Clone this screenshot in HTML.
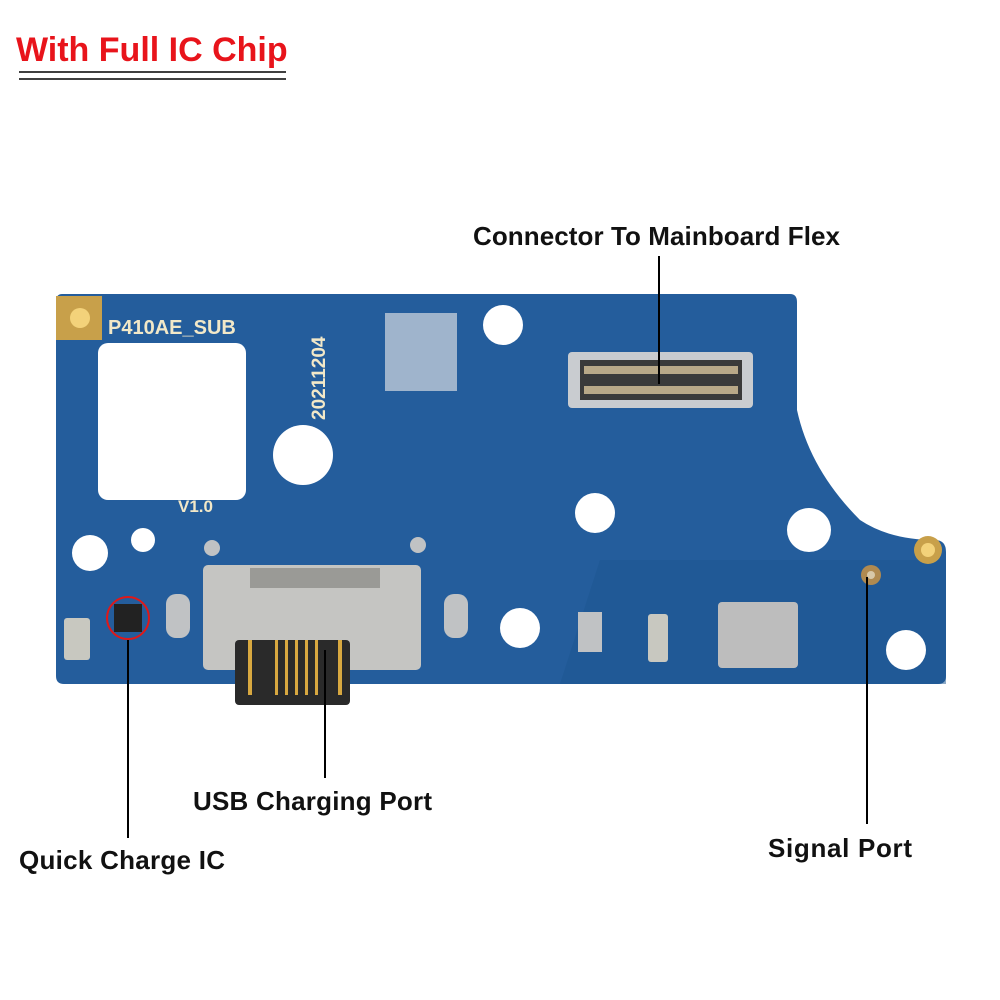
<!DOCTYPE html>
<html><head><meta charset="utf-8"><style>
html,body{margin:0;padding:0;background:#fff;width:1000px;height:1000px;overflow:hidden}
svg{display:block}
</style></head><body>
<svg width="1000" height="1000" viewBox="0 0 1000 1000" xmlns="http://www.w3.org/2000/svg">
<text x="16" y="61" font-family="Liberation Sans, sans-serif" font-weight="bold" font-size="34" fill="#e8141b">With Full IC Chip</text>
<line x1="19" y1="72" x2="286" y2="72" stroke="#000" stroke-width="1.5"/>
<line x1="19" y1="79" x2="286" y2="79" stroke="#000" stroke-width="1.5"/>

<!-- board -->
<path d="M62 294 L790 294 Q797 294 797 302 L797 410 Q810 470 860 520 Q890 540 935 540 Q946 540 946 552 L946 676 Q946 684 938 684 L64 684 Q56 684 56 676 L56 302 Q56 294 62 294 Z" fill="#245d9c"/>
<path d="M600 560 L946 560 L946 684 L560 684 Z" fill="#1b5590" opacity="0.5"/>
<!-- cutout -->
<rect x="98" y="343" width="148" height="157" rx="10" fill="#fff"/>
<circle cx="303" cy="455" r="30" fill="#fff"/>
<!-- holes -->
<circle cx="503" cy="325" r="20" fill="#fff"/>
<circle cx="595" cy="513" r="20" fill="#fff"/>
<circle cx="809" cy="530" r="22" fill="#fff"/>
<circle cx="520" cy="628" r="20" fill="#fff"/>
<circle cx="906" cy="650" r="20" fill="#fff"/>
<circle cx="90" cy="553" r="18" fill="#fff"/>
<circle cx="143" cy="540" r="12" fill="#fff"/>
<!-- gold pads -->
<rect x="56" y="296" width="46" height="44" fill="#c8a04a"/>
<circle cx="80" cy="318" r="10" fill="#f3d27a"/>
<circle cx="928" cy="550" r="14" fill="#c8a04a"/>
<circle cx="928" cy="550" r="7" fill="#f3d27a"/>
<!-- labels on board -->
<text x="108" y="334" font-family="Liberation Sans, sans-serif" font-weight="bold" font-size="20" fill="#f2e8c8">P410AE_SUB</text>
<text x="178" y="512" font-family="Liberation Sans, sans-serif" font-weight="bold" font-size="17" fill="#f2e8c8">V1.0</text>
<text transform="translate(325,420) rotate(-90)" font-family="Liberation Sans, sans-serif" font-weight="bold" font-size="19" fill="#f2e8c8">20211204</text>
<rect x="385" y="313" width="72" height="78" fill="#9fb4cc"/>
<!-- mainboard connector -->
<rect x="568" y="352" width="185" height="56" rx="4" fill="#c9ccd0"/>
<rect x="580" y="360" width="162" height="40" fill="#3a3a3a"/>
<rect x="584" y="366" width="154" height="8" fill="#b8a888"/>
<rect x="584" y="386" width="154" height="8" fill="#b8a888"/>
<!-- usb port -->
<rect x="203" y="565" width="218" height="105" rx="5" fill="#c5c5c2"/>
<rect x="250" y="568" width="130" height="20" fill="#9a9a96"/>
<rect x="235" y="640" width="115" height="65" rx="4" fill="#2a2a2a"/>
<rect x="248" y="640" width="4" height="55" fill="#d8a840"/>
<rect x="275" y="640" width="3" height="55" fill="#d8a840"/>
<rect x="285" y="640" width="3" height="55" fill="#d8a840"/>
<rect x="295" y="640" width="3" height="55" fill="#d8a840"/>
<rect x="305" y="640" width="3" height="55" fill="#d8a840"/>
<rect x="315" y="640" width="3" height="55" fill="#d8a840"/>
<rect x="338" y="640" width="4" height="55" fill="#d8a840"/>
<rect x="166" y="594" width="24" height="44" rx="10" fill="#c0c2c4"/>
<rect x="444" y="594" width="24" height="44" rx="10" fill="#c0c2c4"/>
<circle cx="212" cy="548" r="8" fill="#c0c2c4"/>
<circle cx="418" cy="545" r="8" fill="#c0c2c4"/>
<!-- IC -->
<rect x="114" y="604" width="28" height="28" fill="#222"/>
<circle cx="128" cy="618" r="21" fill="none" stroke="#e01818" stroke-width="2"/>
<rect x="64" y="618" width="26" height="42" rx="3" fill="#c8c8c0"/>
<!-- shield can -->
<rect x="718" y="602" width="80" height="66" rx="4" fill="#bdbdbd"/>
<rect x="578" y="612" width="24" height="40" fill="#c0c2c4"/>
<rect x="648" y="614" width="20" height="48" rx="3" fill="#c8c8c0"/>
<circle cx="871" cy="575" r="10" fill="#b08a50"/>
<circle cx="871" cy="575" r="4" fill="#d8c8a8"/>
<!-- pointer lines -->
<g stroke="#000" stroke-width="2">
<line x1="659" y1="256" x2="659" y2="384"/>
<line x1="325" y1="650" x2="325" y2="778"/>
<line x1="128" y1="640" x2="128" y2="838"/>
<line x1="867" y1="577" x2="867" y2="824"/>
</g>
<g font-family="Liberation Sans, sans-serif" font-weight="bold" font-size="26" fill="#111">
<text x="473" y="245" textLength="367">Connector To Mainboard Flex</text>
<text x="193" y="810" textLength="239">USB Charging Port</text>
<text x="19" y="869" textLength="206">Quick Charge IC</text>
<text x="768" y="857" textLength="144">Signal Port</text>
</g>
</svg>
</body></html>
